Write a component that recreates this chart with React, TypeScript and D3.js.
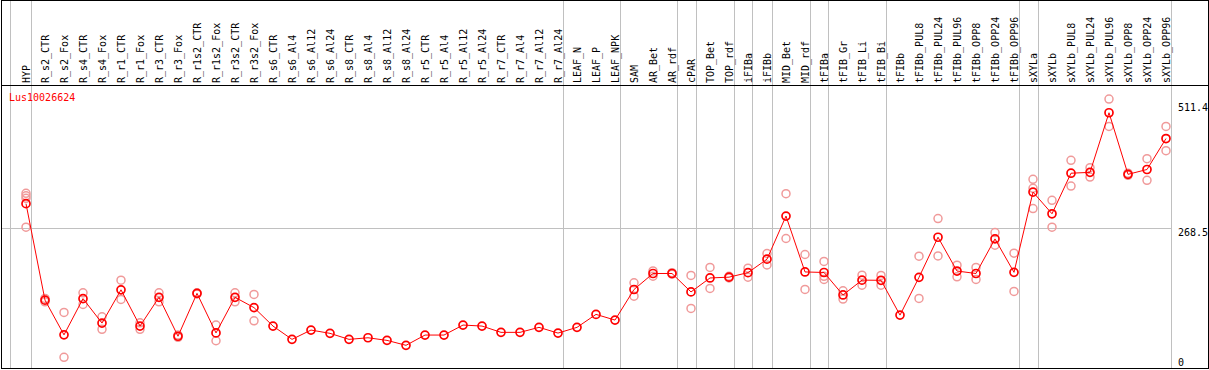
import React from "react";
import * as d3 from "d3";

const geneName = "Lus10026624";

const categories = [
  "HYP", "R_s2_CTR", "R_s2_Fox", "R_s4_CTR", "R_s4_Fox", "R_r1_CTR", "R_r1_Fox", "R_r3_CTR", "R_r3_Fox",
  "R_r1s2_CTR", "R_r1s2_Fox", "R_r3s2_CTR", "R_r3s2_Fox", "R_s6_CTR", "R_s6_Al4", "R_s6_Al12", "R_s6_Al24",
  "R_s8_CTR", "R_s8_Al4", "R_s8_Al12", "R_s8_Al24", "R_r5_CTR", "R_r5_Al4", "R_r5_Al12", "R_r5_Al24",
  "R_r7_CTR", "R_r7_Al4", "R_r7_Al12", "R_r7_Al24", "LEAF_N", "LEAF_P", "LEAF_NPK", "SAM", "AR_Bet", "AR_rdf",
  "cPAR", "TOP_Bet", "TOP_rdf", "iFIBa", "iFIBb", "MID_Bet", "MID_rdf", "tFIBa", "tFIB_Gr", "tFIB_Li", "tFIB_Bi",
  "tFIBb", "tFIBb_PUL8", "tFIBb_PUL24", "tFIBb_PUL96", "tFIBb_OPP8", "tFIBb_OPP24", "tFIBb_OPP96",
  "sXYLa", "sXYLb", "sXYLb_PUL8", "sXYLb_PUL24", "sXYLb_PUL96", "sXYLb_OPP8", "sXYLb_OPP24", "sXYLb_OPP96",
];

const means = [
  314.7, 133.3, 68.0, 136.1, 90.1, 152.7, 84.5, 138.6, 65.4,
  146.0, 71.6, 138.6, 119.2, 84.5, 59.5, 77.0, 70.8,
  59.5, 62.5, 57.6, 48.3, 67.6, 67.6, 86.4, 84.5,
  72.7, 72.7, 82.1, 71.3, 82.1, 106.5, 95.8, 153.3, 183.4, 183.4,
  148.7, 175.0, 176.5, 185.0, 210.3, 291.4, 186.3, 185.3, 143.0, 170.9, 170.6,
  105.1, 176.2, 251.6, 188.0, 183.4, 248.5, 185.6,
  336.5, 295.7, 372.0, 373.6, 485.7, 369.9, 379.0, 437.2,
];

const replicates: number[][] = [
  [334.2, 329.5, 324.8, 270.4], [136.5, 130.1], [110.2, 25.7], [147.0, 125.2], [102.0, 78.3], [170.9, 134.6], [90.7, 78.3], [147.0, 130.1], [67.6, 63.3],
  [147.0, 145.0], [86.4, 56.9], [147.0, 130.1], [144.0, 94.4], [], [], [], [],
  [], [], [], [], [], [], [], [],
  [], [], [], [], [], [], [], [165.8, 140.8], [188.3, 178.4], [185.0, 182.0],
  [179.7, 117.7], [194.7, 155.3], [178.0, 175.0], [193.4, 176.5], [221.0, 199.6], [333.6, 249.2], [219.1, 153.4], [206.0, 178.0, 172.2], [150.8, 135.2], [180.2, 161.5], [179.7, 161.5],
  [], [215.9, 136.5], [286.7, 216.5], [199.0, 177.1], [194.7, 172.2], [260.4, 236.6], [221.6, 149.6],
  [360.5, 343.6, 305.5], [321.1, 270.4], [396.2, 347.9], [382.5, 364.8], [511.4, 460.0], [372.0, 368.0], [399.4, 358.6], [460.0, 414.4],
];

// group boundaries: grid line drawn just after these column indices
const groupEnds = [-1, 0, 28, 31, 34, 35, 37, 38, 39, 41, 42, 45, 52, 53, 60];

const maxValue = 511.4;
const axisLabels = ["511.4", "268.5", "0"];

export default function App() {
  const W = 1209;
  const H = 370;
  const x = d3.scaleLinear().domain([0, categories.length - 1]).range([26, 1166]);
  const yTop = maxValue * 1.05;
  const y = d3.scaleLinear().domain([0, yTop]).range([371, 85.5]);
  const midVal = yTop / 2;
  const line = d3
    .line<number>()
    .x((_, i) => x(i))
    .y((d) => y(d));

  const font = "'DejaVu Sans Mono', monospace";
  const grid = "#c0c0c0";

  return (
    <svg
      width={W}
      height={H}
      style={{ position: "absolute", left: 0, top: 0, background: "#fff" }}
      shapeRendering="auto"
    >
      <rect x={0} y={0} width={W} height={H} fill="#fff" />
      {groupEnds.map((g) => {
        const gx = Math.round(g < 0 ? x(g) + 3.5 : x(g) + 4.5) + 0.5;
        return <line key={g} x1={gx} x2={gx} y1={0} y2={368} stroke={grid} strokeWidth={1} />;
      })}
      <line x1={1} x2={Math.round(x(60) + 4.5)} y1={Math.round(y(midVal)) + 0.5} y2={Math.round(y(midVal)) + 0.5} stroke={grid} strokeWidth={1} />
      <line x1={1} x2={1208.5} y1={85.5} y2={85.5} stroke="#000" strokeWidth={1} />
      <rect x={1.5} y={0.5} width={1207} height={368} fill="none" stroke="#000" strokeWidth={1} />

      {categories.map((c, i) => (
        <text
          key={c}
          transform={`translate(${x(i) + 3.5},83) rotate(-90)`}
          fontFamily={font}
          fontSize={10}
          fill="#000"
        >
          {c}
        </text>
      ))}

      <text x={9} y={101} fontFamily={font} fontSize={10} fill="#ff0000">
        {geneName}
      </text>

      <text x={1178} y={111} fontFamily={font} fontSize={10} fill="#000">{axisLabels[0]}</text>
      <text x={1178} y={236} fontFamily={font} fontSize={10} fill="#000">{axisLabels[1]}</text>
      <text x={1178} y={366} fontFamily={font} fontSize={10} fill="#000">{axisLabels[2]}</text>

      {replicates.map((reps, i) =>
        reps.map((v, j) => (
          <circle key={`r${i}-${j}`} cx={x(i)} cy={y(v)} r={4} fill="none" stroke="#f09a9a" strokeWidth={1.5} />
        ))
      )}

      <path d={line(means) || ""} fill="none" stroke="#ff0000" strokeWidth={1} />

      {means.map((v, i) => (
        <circle key={`m${i}`} cx={x(i)} cy={y(v)} r={4} fill="none" stroke="#ff0000" strokeWidth={1.7} />
      ))}
    </svg>
  );
}
